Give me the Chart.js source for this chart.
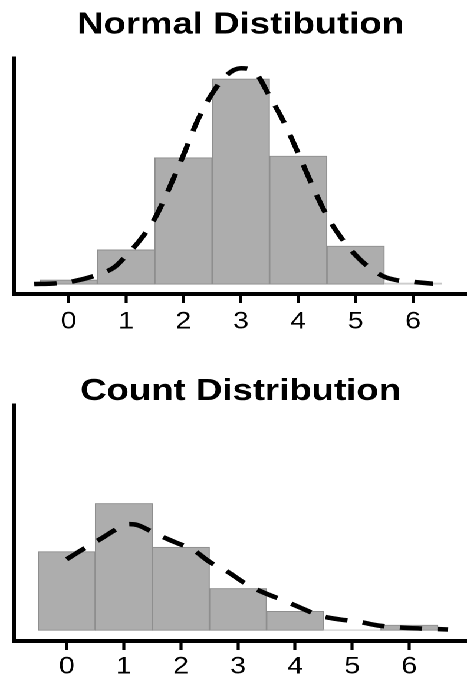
<!DOCTYPE html>
<html><head><meta charset="utf-8">
<script src="https://cdn.jsdelivr.net/npm/chart.js@4.4.1/dist/chart.umd.min.js"></script>
<style>
html,body{margin:0;padding:0;background:#fff;overflow:hidden;width:467px;height:679px;}
#wrap{position:absolute;left:0;top:0;width:396px;height:679px;overflow:hidden;transform:scaleX(1.1793);transform-origin:0 0;}
#c1{position:absolute;left:0;top:0;}
#c2{position:absolute;left:0;top:340px;}
</style></head><body>
<div id="wrap"><canvas id="c1" width="396" height="341"></canvas><canvas id="c2" width="396" height="344"></canvas></div>
<script>
// ---- data (percent of observations per unit bin) ----
const binCenters = [0, 1, 2, 3, 4, 5, 6];
const tickLabels = [0, 1, 2, 3, 4, 5, 6];

const normalTitle = 'Normal Distibution';
const normalCounts = [0.8, 6.4, 23.5, 38.1, 23.8, 7.1, 0.25];
const normalCurveX = [-0.6, -0.25, 0.1, 0.5, 0.8, 1.0, 1.25, 1.5, 1.75, 2.0, 2.25, 2.5, 2.75, 3.0, 3.25, 3.5, 3.75, 4.0, 4.25, 4.5, 4.75, 5.0, 5.25, 5.5, 5.75, 6.0, 6.35];
const normalCurveY = [0.05, 0.15, 0.6, 1.75, 3.2, 5.3, 8.3, 12.2, 17.8, 24.0, 30.5, 35.4, 38.8, 40.1, 39.3, 34.9, 30.1, 24.3, 18.2, 12.7, 8.6, 5.4, 3.0, 1.4, 0.7, 0.45, 0.1];

const countTitle = 'Count Distribution';
const countCounts = [22.2, 35.7, 23.4, 11.8, 5.4, 0.2, 1.5];
const countCurveX = [0, 0.26, 0.61, 0.93, 1.1, 1.25, 1.57, 1.9, 2.22, 2.51, 2.83, 3.12, 3.44, 3.76, 4.08, 4.43, 4.78, 5.1, 5.45, 5.83, 6.18, 6.68];
const countCurveY = [20.0, 22.6, 25.9, 29.0, 29.9, 29.6, 27.1, 24.8, 22.6, 19.2, 16.4, 13.3, 10.7, 8.7, 6.5, 4.2, 3.1, 2.5, 1.4, 0.85, 0.56, 0.28];

const FONT = "'Liberation Sans', Arial, Helvetica, sans-serif";

function makeChart(id, cfg) {
  const barColors = cfg.counts.map(v => v < 0.5 ? '#c6c6c6' : '#adadad');
  const barBorders = cfg.counts.map(v => v < 0.5 ? '#c6c6c6' : '#8e8e8e');
  return new Chart(document.getElementById(id), {
    type: 'bar',
    data: {
      datasets: [
        {
          type: 'line',
          order: 0,
          data: cfg.curveX.map((x, i) => ({x: x, y: cfg.curveY[i]})),
          borderColor: '#000',
          borderWidth: 4.5,
          borderDash: [19, 13],
          borderCapStyle: 'butt',
          pointRadius: 0,
          fill: false,
          tension: 0.4,
          cubicInterpolationMode: 'monotone'
        },
        {
          type: 'bar',
          order: 1,
          data: binCenters.map((x, i) => ({x: x, y: cfg.counts[i]})),
          backgroundColor: barColors,
          borderColor: barBorders,
          borderWidth: 1,
          borderSkipped: false,
          barPercentage: 1,
          categoryPercentage: 1
        }
      ]
    },
    options: {
      responsive: false,
      animation: false,
      devicePixelRatio: 2,
      layout: {padding: {left: 12, right: 0, top: 0, bottom: cfg.padBottom}},
      plugins: {
        legend: {display: false},
        tooltip: {enabled: false},
        title: {
          display: true,
          text: cfg.title,
          fullSize: false,
          color: '#000',
          font: {family: FONT, size: 31, weight: 'bold', lineHeight: 0.8},
          padding: {top: cfg.titleTop, bottom: cfg.titleBottom}
        }
      },
      scales: {
        x: {
          type: 'linear',
          min: cfg.xmin,
          max: cfg.xmax,
          offset: false,
          afterBuildTicks: s => { s.ticks = tickLabels.map(v => ({value: v})); },
          grid: {display: true, offset: false, drawOnChartArea: false, drawTicks: true, tickLength: 9, tickWidth: 2.6, tickColor: '#000'},
          border: {display: true, color: '#000', width: 4},
          ticks: {color: '#000', padding: cfg.tickPad, font: {family: FONT, size: 24}, maxRotation: 0}
        },
        y: {
          type: 'linear',
          min: cfg.ymin,
          max: cfg.ymax,
          grid: {display: true, drawOnChartArea: false, drawTicks: false},
          border: {display: true, color: '#000', width: 3},
          ticks: {display: false}
        }
      }
    }
  });
}

makeChart('c1', {
  title: normalTitle, counts: normalCounts, curveX: normalCurveX, curveY: normalCurveY,
  xmin: -0.95, xmax: 6.94, ymin: -1.8, ymax: 42.0,
  titleTop: 12.8, titleBottom: 20.4, tickPad: 4.6, padBottom: 0
});
makeChart('c2', {
  title: countTitle, counts: countCounts, curveX: countCurveX, curveY: countCurveY,
  xmin: -0.92, xmax: 7.01, ymin: -2.96, ymax: 63.4,
  titleTop: 39.3, titleBottom: 0.9, tickPad: 2.6, padBottom: 0
});
</script>
</body></html>
